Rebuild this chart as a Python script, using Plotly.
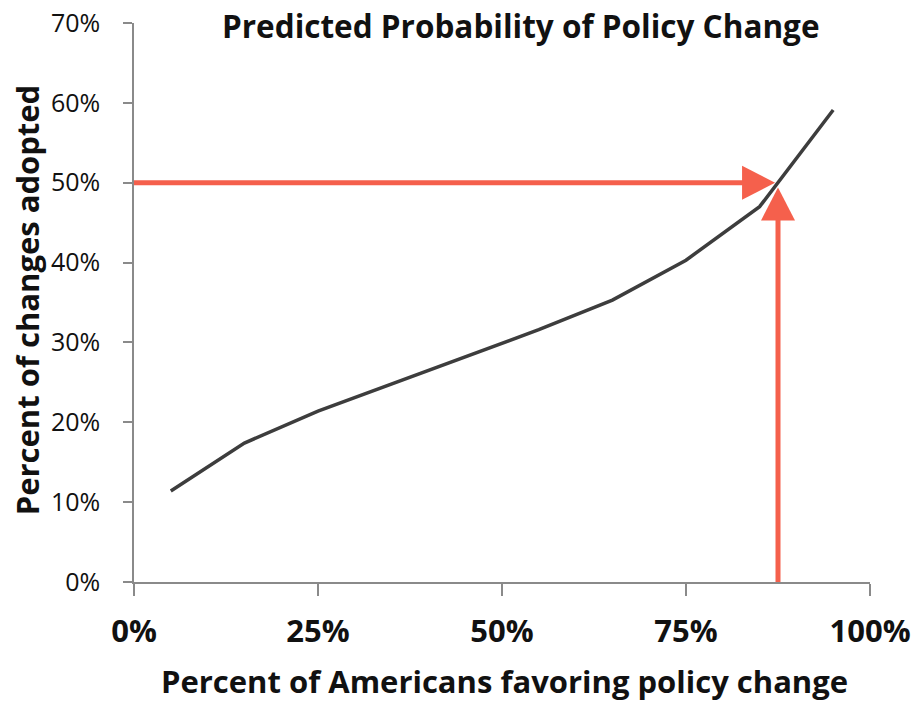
import plotly.graph_objects as go

# Predicted probability curve
favor_pct = [5, 15, 25, 35, 45, 55, 65, 75, 85, 95]
adopted_pct = [11.4, 17.4, 21.4, 24.8, 28.2, 31.6, 35.3, 40.3, 47.0, 59.1]

# Highlighted reading: about 87.5% support gives a 50% adoption rate
marker_favor = 87.5
marker_adopted = 50.0

x_ticks = [0, 25, 50, 75, 100]
x_tick_labels = ["0%", "25%", "50%", "75%", "100%"]
y_ticks = [0, 10, 20, 30, 40, 50, 60, 70]
y_tick_labels = ["0%", "10%", "20%", "30%", "40%", "50%", "60%", "70%"]

ARROW = "#f5604c"
LINE = "#3d3d3d"
AXIS = "#8a8a8a"
FONT = "Open Sans"

W, H = 917, 701
margin = dict(l=134, r=47, t=23, b=119)
x_range = [0, 100]
y_range = [0, 70]
px_x = (W - margin["l"] - margin["r"]) / (x_range[1] - x_range[0])
px_y = (H - margin["t"] - margin["b"]) / (y_range[1] - y_range[0])

head_len = 33  # arrowhead length in pixels
head_half = 17  # arrowhead half width in pixels

fig = go.Figure()

# Horizontal arrow shaft and head
h_tip = marker_favor - 0.4
h_base = h_tip - head_len / px_x
fig.add_trace(go.Scatter(
    x=[0, h_base + 0.3], y=[marker_adopted, marker_adopted], mode="lines",
    line=dict(color=ARROW, width=5), hoverinfo="skip", showlegend=False))
fig.add_trace(go.Scatter(
    x=[h_base, h_tip, h_base, h_base],
    y=[marker_adopted + head_half / px_y, marker_adopted,
       marker_adopted - head_half / px_y, marker_adopted + head_half / px_y],
    mode="lines", fill="toself", fillcolor=ARROW, line=dict(color=ARROW, width=0),
    hoverinfo="skip", showlegend=False))

# Vertical arrow shaft and head
v_tip = marker_adopted - 0.6
v_base = v_tip - head_len / px_y
fig.add_trace(go.Scatter(
    x=[marker_favor, marker_favor], y=[0, v_base + 0.3], mode="lines",
    line=dict(color=ARROW, width=5), hoverinfo="skip", showlegend=False))
fig.add_trace(go.Scatter(
    x=[marker_favor - head_half / px_x, marker_favor,
       marker_favor + head_half / px_x, marker_favor - head_half / px_x],
    y=[v_base, v_tip, v_base, v_base],
    mode="lines", fill="toself", fillcolor=ARROW, line=dict(color=ARROW, width=0),
    hoverinfo="skip", showlegend=False))

# Probability curve
fig.add_trace(go.Scatter(
    x=favor_pct, y=adopted_pct, mode="lines",
    line=dict(color=LINE, width=3.5), showlegend=False))

fig.update_layout(
    width=W, height=H, margin=margin,
    paper_bgcolor="white", plot_bgcolor="white",
    font=dict(family=FONT, color="#111111"),
    xaxis=dict(
        range=x_range, tickvals=x_ticks, ticktext=x_tick_labels, automargin=False,
        showgrid=False, zeroline=False, showline=True, linecolor=AXIS, linewidth=1.5,
        ticks="outside", ticklen=12, tickwidth=1.5, tickcolor=AXIS,
        tickfont=dict(family=FONT, size=31, color="#111111", weight="bold"),
        ticklabelstandoff=9, fixedrange=True),
    yaxis=dict(
        range=y_range, tickvals=y_ticks, ticktext=y_tick_labels, automargin=False,
        showgrid=False, zeroline=False, showline=True, linecolor=AXIS, linewidth=1.5,
        ticks="outside", ticklen=9, tickwidth=1.5, tickcolor=AXIS,
        tickfont=dict(family=FONT, size=25, color="#111111"),
        ticklabelstandoff=18, fixedrange=True),
    annotations=[
        dict(text="<b>Predicted Probability of Policy Change</b>",
             xref="paper", yref="paper", x=0.526, y=1.0, xanchor="center", yanchor="middle",
             yshift=-2, showarrow=False, font=dict(family=FONT, size=31.5, color="#111111")),
        dict(text="<b>Percent of Americans favoring policy change</b>",
             xref="paper", yref="paper", x=0.503, y=0, xanchor="center", yanchor="middle",
             yshift=-99, showarrow=False, font=dict(family=FONT, size=31, color="#111111")),
        dict(text="<b>Percent of changes adopted</b>",
             xref="paper", yref="paper", x=0, y=0.504, xanchor="center", yanchor="middle",
             xshift=-107, textangle=-90, showarrow=False,
             font=dict(family=FONT, size=31, color="#111111")),
    ],
)

fig.write_html("out.html")
